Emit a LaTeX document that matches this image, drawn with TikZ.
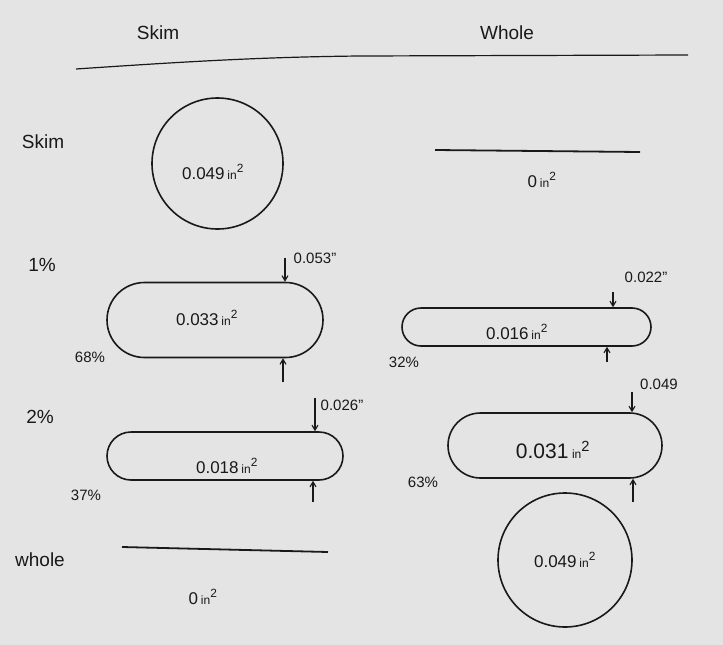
\documentclass[tikz,border=0pt]{standalone}
\usepackage{fontspec}
\setmainfont{Liberation Sans}
\usetikzlibrary{shapes.misc,arrows.meta}
\definecolor{paper}{RGB}{228,228,228}
\definecolor{ink}{RGB}{25,25,25}
\tikzset{
  hand/.style={text=ink, font=\fontsize{19}{21}\selectfont},
  small/.style={text=ink, font=\fontsize{15}{17}\selectfont},
  area/.style={text=ink, font=\fontsize{17}{19}\selectfont},
  stadium/.style={draw=ink, line width=1.6pt, rounded rectangle, inner sep=0pt},
  disk/.style={draw=ink, line width=1.6pt, circle, inner sep=0pt},
  bar/.style={draw=ink, line width=1.8pt},
  dimarrow/.style={draw=ink, line width=1.1pt, -{Straight Barb[length=5pt,width=6pt]}}
}
\newcommand{\insq}{\,{\fontsize{12}{12}\selectfont in}\textsuperscript{2}}
\begin{document}
\begin{tikzpicture}[x=1pt,y=-1pt]
\fill[paper] (0,0) rectangle (723,645);
\useasboundingbox (0,0) rectangle (723,645);
% headers
\node[hand] (hskim) at (158,33) {Skim};
\node[hand] (hwhole) at (507,33) {Whole};
\coordinate (hl1) at (76,69);
\coordinate (hl2) at (688,55);
\draw[ink, line width=1.2pt] (hl1) .. controls (180,62) and (260,57) .. (360,56) -- (hl2);
% row labels
\node[hand] (rskim) at (43,142) {Skim};
\node[hand] (r1) at (42,265) {1\%};
\node[hand] (r2) at (40,417) {2\%};
\node[hand] (rwhole) at (40,560) {whole};
% skim / skim
\node[disk, minimum size=131pt] (c1) at (217.5,163.5) {};
\node[area] (c1t) at (213,172) {0.049\insq};
% skim / whole
\coordinate (b1a) at (435,150);
\coordinate (b1b) at (640,152);
\draw[bar] (b1a) -- (b1b);
\node[area] (b1t) at (542,180) {0\insq};
% 1% skim
\node[stadium, minimum width=216pt, minimum height=75pt] (s1) at (215,320) {};
\node[area] (s1t) at (207,318) {0.033\insq};
\node[small] (s1d) at (315,258) {0.053''};
\coordinate (s1a) at (285,258);
\coordinate (s1b) at (283,382);
\draw[dimarrow] (s1a) -- (s1a |- s1.north);
\draw[dimarrow] (s1b) -- (s1b |- s1.south);
\node[small] (s1p) at (90,357) {68\%};
% 1% whole
\node[stadium, minimum width=249pt, minimum height=38pt] (s2) at (526.5,327) {};
\node[area] (s2t) at (517,332) {0.016\insq};
\node[small] (s2d) at (646,277) {0.022''};
\coordinate (s2a) at (613,292);
\coordinate (s2b) at (607,362);
\draw[dimarrow] (s2a) -- (s2a |- s2.north);
\draw[dimarrow] (s2b) -- (s2b |- s2.south);
\node[small] (s2p) at (404,362) {32\%};
% 2% skim
\node[stadium, minimum width=236pt, minimum height=48pt] (s3) at (225,456) {};
\node[area] (s3t) at (227,466) {0.018\insq};
\node[small] (s3d) at (342,405) {0.026''};
\coordinate (s3a) at (315,398);
\coordinate (s3b) at (313,502);
\draw[dimarrow] (s3a) -- (s3a |- s3.north);
\draw[dimarrow] (s3b) -- (s3b |- s3.south);
\node[small] (s3p) at (86,495) {37\%};
% 2% whole
\node[stadium, minimum width=214pt, minimum height=65pt] (s4) at (555,445.5) {};
\node[area, font=\fontsize{21}{23}\selectfont] (s4t) at (553,450) {0.031\insq};
\node[small] (s4d) at (659,384) {0.049};
\coordinate (s4a) at (632,392);
\coordinate (s4b) at (633,502);
\draw[dimarrow] (s4a) -- (s4a |- s4.north);
\draw[dimarrow] (s4b) -- (s4b |- s4.south);
\node[small] (s4p) at (423,482) {63\%};
% whole / skim
\coordinate (b2a) at (122,547);
\coordinate (b2b) at (328,552);
\draw[bar] (b2a) -- (b2b);
\node[area] (b2t) at (203,597) {0\insq};
% whole / whole
\node[disk, minimum size=134pt] (c2) at (565,560) {};
\node[area] (c2t) at (565,560) {0.049\insq};
\end{tikzpicture}
\end{document}
